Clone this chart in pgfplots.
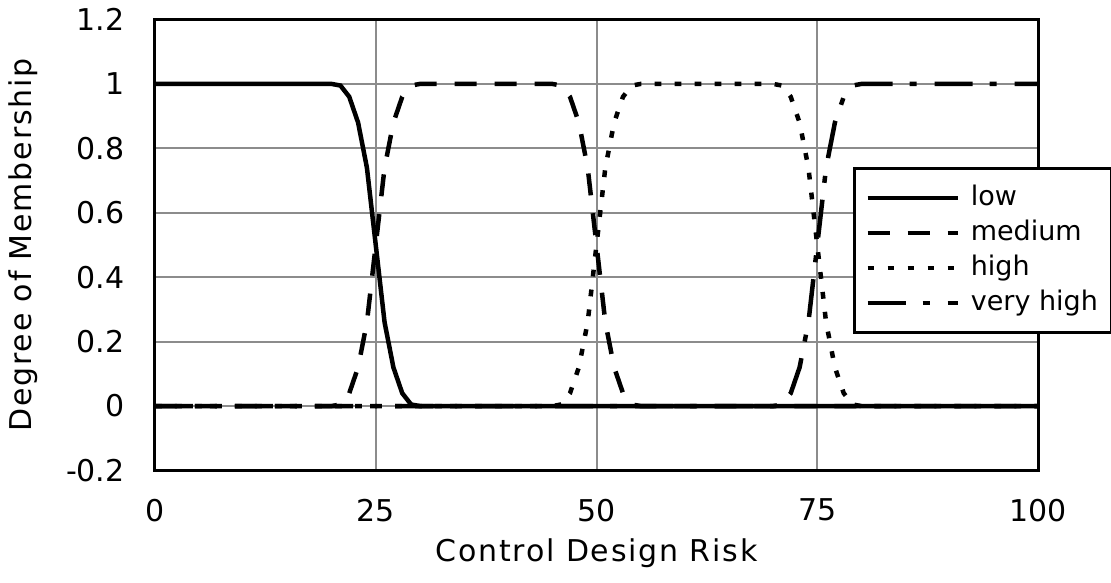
\documentclass[border=0pt]{standalone}
\usepackage{fontspec}
\setmainfont{DejaVu Sans}
\usepackage{pgfplots}
\pgfplotsset{compat=1.18}
\begin{document}
\begin{tikzpicture}
\useasboundingbox (-77.5bp,-56.25bp) rectangle (478bp,235.25bp);
\begin{axis}[
  at={(0,0)}, anchor=south west,
  scale only axis, width=441.5bp, height=225.5bp,
  xmin=0, xmax=100, ymin=-0.2, ymax=1.2,
  xtick={0,25,50,75,100},
  xticklabels={0,25,50,75,100},
  ytick={-0.2,0,0.2,0.4,0.6,0.8,1,1.2},
  yticklabels={-0.2,0,0.2,0.4,0.6,0.8,1,1.2},
  major tick length=0pt,
  tick label style={font=\fontsize{15bp}{18bp}\selectfont},
  xticklabel style={inner sep=0pt, anchor=north, yshift=-14bp},
  yticklabel style={inner sep=0pt, anchor=east, xshift=-15bp},
  grid=major,
  major grid style={black!45, line width=1bp},
  axis line style={line width=1.5bp},
  xlabel={Control Design Risk},
  ylabel={Degree of Membership},
  label style={font=\fontsize{15bp}{18bp}\selectfont\addfontfeatures{LetterSpace=6}},
  xlabel style={at={(axis description cs:0.5,0)}, anchor=base, yshift=-45.5bp},
  ylabel style={at={([xshift=-61.5bp]axis description cs:0,0.5)}, anchor=base},
  legend cell align=left,
  legend image code/.code={\draw[#1] (0bp,0bp) -- (45bp,0bp);},
  legend style={at={(axis cs:79.05,0.741)}, anchor=north west, draw=black,
    line width=1.3bp, fill=white,
    font=\fontsize{13.5bp}{16bp}\selectfont,
    inner xsep=5.5bp, inner ysep=7.25bp, row sep=2.5bp, column sep=4.5bp,
    nodes={inner sep=1bp, text height=10bp, text depth=3bp}},
]
\addplot[black, line width=2.25bp, line cap=butt] coordinates {
 (0,1) (20,1) (21,0.995) (22,0.96) (23,0.88) (24,0.74) (25,0.5) (26,0.26) (27,0.12) (28,0.04) (29,0.005) (30,0) (100,0)};
\addlegendentry{low}
\addplot[black, line width=2.25bp, line cap=butt, dash pattern=on 11bp off 9bp] coordinates {
 (0,0) (20,0) (21,0.005) (22,0.04) (23,0.12) (24,0.26) (25,0.5) (26,0.74) (27,0.88) (28,0.96) (29,0.995) (30,1)
 (45,1) (46,0.995) (47,0.96) (48,0.88) (49,0.74) (50,0.5) (51,0.26) (52,0.12) (53,0.04) (54,0.005) (55,0) (100,0)};
\addlegendentry{medium}
\addplot[black, line width=2.25bp, line cap=butt, dash pattern=on 3.4bp off 6.6bp] coordinates {
 (0,0) (45,0) (46,0.005) (47,0.04) (48,0.12) (49,0.26) (50,0.5) (51,0.74) (52,0.88) (53,0.96) (54,0.995) (55,1)
 (70,1) (71,0.995) (72,0.96) (73,0.88) (74,0.74) (75,0.5) (76,0.26) (77,0.12) (78,0.04) (79,0.005) (80,0) (100,0)};
\addlegendentry{high}
\addplot[black, line width=2.25bp, line cap=butt, dash pattern=on 19bp off 8.5bp on 3.5bp off 9bp] coordinates {
 (0,0) (70,0) (71,0.005) (72,0.04) (73,0.12) (74,0.26) (75,0.5) (76,0.74) (77,0.88) (78,0.96) (79,0.995) (80,1) (100,1)};
\addlegendentry{very high}
\end{axis}
\end{tikzpicture}
\end{document}
